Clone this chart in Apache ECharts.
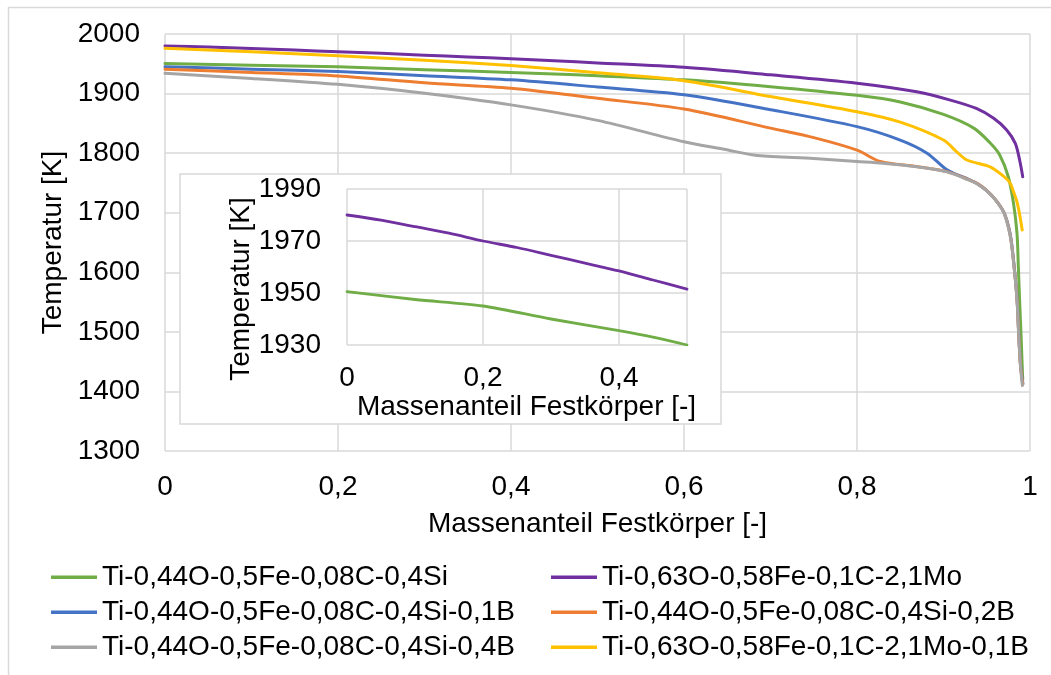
<!DOCTYPE html>
<html>
<head>
<meta charset="utf-8">
<script src="https://cdn.jsdelivr.net/npm/echarts@6/dist/echarts.min.js"></script>
<style>
  html, body { margin: 0; padding: 0; background: #ffffff; }
  #chart { width: 1051px; height: 675px; }
</style>
</head>
<body>
<div id="chart"></div>
<script>
// Solidification curves: temperature over solid mass fraction, [fraction, K]
const nameSi      = 'Ti-0,44O-0,5Fe-0,08C-0,4Si';
const nameMo      = 'Ti-0,63O-0,58Fe-0,1C-2,1Mo';
const nameSiB01   = 'Ti-0,44O-0,5Fe-0,08C-0,4Si-0,1B';
const nameSiB02   = 'Ti-0,44O-0,5Fe-0,08C-0,4Si-0,2B';
const nameSiB04   = 'Ti-0,44O-0,5Fe-0,08C-0,4Si-0,4B';
const nameMoB01   = 'Ti-0,63O-0,58Fe-0,1C-2,1Mo-0,1B';

const curveSi = [
  [0, 1950.5], [0.1, 1947.5], [0.2, 1945], [0.3, 1940], [0.4, 1935.5], [0.45, 1933],
  [0.5, 1930], [0.6, 1923], [0.7, 1911.5], [0.8, 1897], [0.85, 1886], [0.9, 1865],
  [0.935, 1842], [0.954, 1817], [0.965, 1797], [0.975, 1760], [0.981, 1715],
  [0.985, 1665], [0.9865, 1610], [0.988, 1553], [0.990, 1481], [0.9916, 1419]
];
const curveMo = [
  [0, 1980], [0.05, 1978], [0.1, 1975.5], [0.15, 1973], [0.2, 1970], [0.25, 1967.5],
  [0.3, 1964.5], [0.35, 1961.5], [0.4, 1958.5], [0.45, 1955], [0.5, 1951.5],
  [0.6, 1944], [0.7, 1931.5], [0.8, 1917.5], [0.869, 1903], [0.908, 1889],
  [0.938, 1875], [0.958, 1858.5], [0.973, 1839], [0.983, 1816.5], [0.988, 1788.5],
  [0.9916, 1760.5]
];
const curveSiB01 = [
  [0, 1945], [0.1, 1941], [0.2, 1937], [0.3, 1930], [0.4, 1923], [0.5, 1911],
  [0.6, 1898], [0.7, 1873], [0.8, 1844.5], [0.85, 1822], [0.881, 1800], [0.904, 1772],
  [0.929, 1756], [0.94, 1748], [0.95, 1737], [0.96, 1722], [0.97, 1700], [0.977, 1665],
  [0.981, 1620], [0.985, 1556], [0.987, 1496], [0.989, 1446], [0.9918, 1413]
];
const curveSiB02 = [
  [0, 1941], [0.1, 1935.5], [0.2, 1929.5], [0.3, 1918], [0.4, 1909], [0.5, 1892],
  [0.6, 1874], [0.7, 1842], [0.75, 1826], [0.8, 1805], [0.827, 1786], [0.869, 1777.5],
  [0.904, 1769], [0.929, 1755.5], [0.94, 1748], [0.95, 1737], [0.96, 1722],
  [0.97, 1699.5], [0.977, 1663], [0.981, 1618], [0.985, 1554], [0.987, 1494],
  [0.989, 1444], [0.9916, 1412]
];
const curveSiB04 = [
  [0, 1934], [0.1, 1925.5], [0.2, 1915.5], [0.3, 1900.5], [0.4, 1881], [0.5, 1855],
  [0.6, 1819], [0.646, 1806.5], [0.685, 1796], [0.75, 1791], [0.8, 1786], [0.83, 1783],
  [0.869, 1777], [0.904, 1768.5], [0.929, 1755], [0.94, 1747.5], [0.95, 1736.5],
  [0.96, 1721.5], [0.97, 1699], [0.977, 1662], [0.981, 1617], [0.985, 1553],
  [0.987, 1493], [0.989, 1443], [0.9912, 1410]
];
const curveMoB01 = [
  [0, 1976], [0.1, 1970], [0.2, 1963.5], [0.3, 1956], [0.4, 1947], [0.5, 1935],
  [0.6, 1921.5], [0.7, 1895], [0.8, 1869.5], [0.85, 1852], [0.9, 1822], [0.915, 1802.5],
  [0.927, 1788.5], [0.954, 1777], [0.97, 1760.5], [0.977, 1750], [0.981, 1735],
  [0.985, 1718], [0.988, 1697], [0.991, 1671]
];

// Axis ranges and ticks
const mainX = { min: 0, max: 1, interval: 0.2 };
const mainY = { min: 1300, max: 2000, interval: 100 };
const insetX = { min: 0, max: 0.5, interval: 0.2 };
const insetY = { min: 1930, max: 1990, interval: 20 };

const xTitle = 'Massenanteil Festkörper [-]';
const yTitle = 'Temperatur [K]';

const FONT = '"Liberation Sans", Arial, Helvetica, sans-serif';
const TEXT = '#000000';
const GRID_LINE = '#d9d9d9';

const colors = {
  [nameSi]: '#70AD47',
  [nameMo]: '#7030A0',
  [nameSiB01]: '#4472C4',
  [nameSiB02]: '#ED7D31',
  [nameSiB04]: '#A5A5A5',
  [nameMoB01]: '#FFC000'
};

const commaFmt = v => String(Math.round(v * 10) / 10).replace('.', ',');
const plainFmt = v => String(v);

function valueAxis(gridIndex, range, extra) {
  return Object.assign({
    type: 'value',
    gridIndex: gridIndex,
    min: range.min, max: range.max, interval: range.interval,
    axisLine: { show: false },
    axisTick: { show: false },
    splitLine: { show: true, lineStyle: { color: GRID_LINE, width: 1.5 } },
    axisLabel: { fontSize: 28, color: TEXT, fontFamily: FONT },
    nameTextStyle: { fontSize: 28, color: TEXT, fontFamily: FONT },
    nameLocation: 'middle'
  }, extra);
}

function lineSeries(name, data, xi, yi, z, width) {
  return {
    type: 'line', name: name, data: data,
    xAxisIndex: xi, yAxisIndex: yi,
    showSymbol: false, symbol: 'none',
    smooth: 0.3,
    z: z,
    color: colors[name],
    lineStyle: { color: colors[name], width: width, join: 'round', cap: 'round' },
    emphasis: { disabled: true }
  };
}

const upToHalf = d => d.filter(p => p[0] <= 0.5);

const chart = echarts.init(document.getElementById('chart'), null, { renderer: 'canvas' });

chart.setOption({
  animation: false,
  backgroundColor: '#ffffff',
  textStyle: { fontFamily: FONT },
  grid: [
    { left: 165, top: 34, width: 865, height: 417 },
    { left: 347, top: 189, width: 340, height: 156 }
  ],
  xAxis: [
    valueAxis(0, mainX, {
      name: xTitle, nameGap: 59,
      axisLabel: { fontSize: 28, color: TEXT, fontFamily: FONT, margin: 22, formatter: commaFmt }
    }),
    valueAxis(1, insetX, {
      z: 10,
      name: xTitle, nameGap: 43,
      nameTextStyle: { fontSize: 28, color: TEXT, fontFamily: FONT, padding: [0, 0, 0, 19] },
      axisLabel: { fontSize: 28, color: TEXT, fontFamily: FONT, margin: 19, formatter: commaFmt,
                   showMaxLabel: false }
    })
  ],
  yAxis: [
    valueAxis(0, mainY, {
      name: yTitle, nameGap: 80,
      axisLabel: { fontSize: 28, color: TEXT, fontFamily: FONT, margin: 25, formatter: plainFmt }
    }),
    valueAxis(1, insetY, {
      z: 10,
      name: yTitle, nameGap: 84,
      nameTextStyle: { fontSize: 28, color: TEXT, fontFamily: FONT, padding: [0, 44, 0, 0] },
      axisLabel: { fontSize: 28, color: TEXT, fontFamily: FONT, margin: 26, formatter: plainFmt }
    })
  ],
  legend: [
    {
      orient: 'vertical', left: 51, top: 562, padding: 0,
      icon: 'rect', itemWidth: 46, itemHeight: 3.5, itemGap: 4.5,
      textStyle: { fontSize: 28, color: TEXT, fontFamily: FONT, lineHeight: 30.5 },
      data: [nameSi, nameSiB01, nameSiB04]
    },
    {
      orient: 'vertical', left: 551, top: 562, padding: 0,
      icon: 'rect', itemWidth: 46, itemHeight: 3.5, itemGap: 4.5,
      textStyle: { fontSize: 28, color: TEXT, fontFamily: FONT, lineHeight: 30.5 },
      data: [nameMo, nameSiB02, nameMoB01]
    }
  ],
  graphic: {
    elements: [
      {
        type: 'rect', silent: true, z: -10,
        shape: { x: 8.5, y: 7.5, width: 1100, height: 700 },
        style: { fill: 'none', stroke: GRID_LINE, lineWidth: 1.5 }
      },
      {
        type: 'rect', silent: true, z: 5,
        shape: { x: 180, y: 174, width: 541, height: 250 },
        style: { fill: '#ffffff', stroke: GRID_LINE, lineWidth: 1.5 }
      }
    ]
  },
  series: [
    lineSeries(nameSi, curveSi, 0, 0, 2, 3),
    lineSeries(nameMo, curveMo, 0, 0, 2, 3),
    lineSeries(nameSiB01, curveSiB01, 0, 0, 2, 3),
    lineSeries(nameSiB02, curveSiB02, 0, 0, 2, 3),
    lineSeries(nameSiB04, curveSiB04, 0, 0, 2, 3),
    lineSeries(nameMoB01, curveMoB01, 0, 0, 2, 3),
    // enlarged view of the first half of solidification
    lineSeries(nameMo, upToHalf(curveMo), 1, 1, 11, 2.8),
    lineSeries(nameSi, upToHalf(curveSi), 1, 1, 11, 2.8)
  ]
});
</script>
</body>
</html>
